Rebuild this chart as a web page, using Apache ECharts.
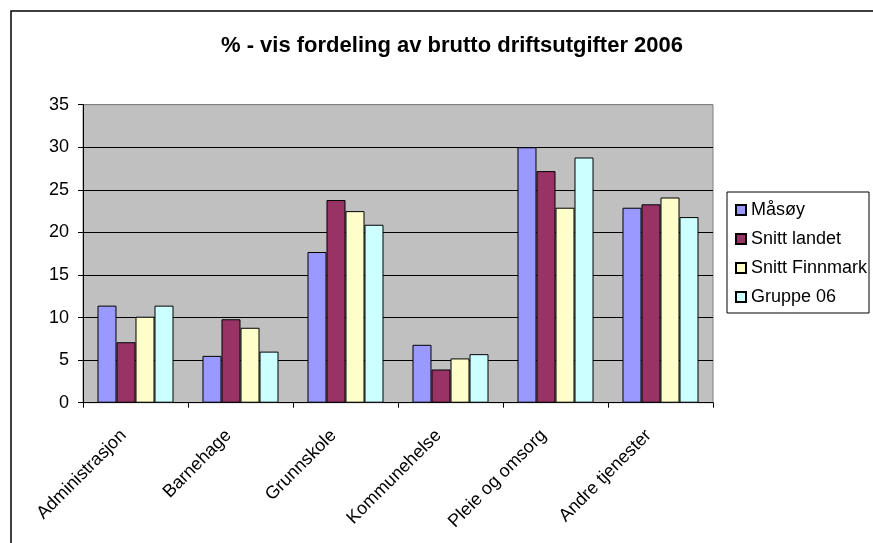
<!DOCTYPE html>
<html>
<head>
<meta charset="utf-8">
<script src="https://cdn.jsdelivr.net/npm/echarts@6/dist/echarts.min.js"></script>
<style>
    html, body { margin: 0; padding: 0; background: #fff; }
    #chart { width: 873px; height: 543px; }
</style>
</head>
<body>
<div id="chart"></div>
<script>
let chart = echarts.init(document.querySelector('#chart'))

// kategorier og verdier (lest av bildet)
let categories = ['Administrasjon', 'Barnehage', 'Grunnskole', 'Kommunehelse', 'Pleie og omsorg', 'Andre tjenester']
let seriesNames = ['Måsøy', 'Snitt landet', 'Snitt Finnmark', 'Gruppe 06']
let masoy = [11.4, 5.5, 17.7, 6.8, 30.0, 22.9]
let snittLandet = [7.1, 9.8, 23.8, 3.9, 27.2, 23.3]
let snittFinnmark = [10.1, 8.8, 22.5, 5.2, 22.9, 24.1]
let gruppe06 = [11.4, 6.0, 20.9, 5.7, 28.8, 21.8]
let colors = ['#9999FF', '#993366', '#FFFFCC', '#CCFFFF']

let font = 'Liberation Sans, Arial, sans-serif'

function bar(name, data, color) {
    return {
        name: name,
        type: 'bar',
        data: data,
        barGap: 0,
        barCategoryGap: '27.6%',
        itemStyle: {
            color: color,
            borderColor: '#000',
            borderWidth: 1
        }
    }
}

chart.setOption({
    animation: false,
    title: {
        text: '% - vis fordeling av brutto driftsutgifter 2006',
        left: 447,
        top: 30,
        textAlign: 'center',
        textStyle: {
            fontFamily: font,
            fontSize: 22,
            fontWeight: 'bold',
            color: '#000'
        }
    },
    legend: {
        orient: 'vertical',
        left: 735,
        top: 201,
        padding: 0,
        itemGap: 11,
        itemWidth: 10,
        itemHeight: 10,
        icon: 'rect',
        data: seriesNames,
        textStyle: {
            fontFamily: font,
            fontSize: 18,
            color: '#000'
        }
    },
    graphic: [
        { // ytre ramme
            type: 'rect',
            shape: { x: 11, y: 11, width: 900, height: 600 },
            style: { fill: 'none', stroke: '#000', lineWidth: 1.5 },
            silent: true
        },
        { // ramme rundt forklaring
            type: 'rect',
            shape: { x: 727, y: 192, width: 142, height: 121 },
            style: { fill: 'none', stroke: '#000', lineWidth: 1 },
            silent: true
        }
    ],
    grid: {
        left: 83,
        right: 160,
        top: 104.7,
        bottom: 140.3,
        show: true,
        backgroundColor: '#C0C0C0',
        borderColor: '#808080',
        borderWidth: 1
    },
    xAxis: {
        type: 'category',
        data: categories,
        boundaryGap: true,
        axisLine: { lineStyle: { color: '#000', width: 1 } },
        axisTick: { show: true, length: 5, interval: 0, lineStyle: { color: '#000' } },
        axisLabel: {
            interval: 0,
            rotate: 45,
            margin: 18,
            padding: [0, 17, 0, 0],
            fontFamily: font,
            fontSize: 18,
            color: '#000'
        }
    },
    yAxis: {
        type: 'value',
        min: 0,
        max: 35,
        interval: 5,
        axisLine: { show: true, lineStyle: { color: '#000', width: 1 } },
        axisTick: { show: true, length: 5, lineStyle: { color: '#000' } },
        axisLabel: {
            margin: 14,
            fontFamily: font,
            fontSize: 18,
            color: '#000'
        },
        splitLine: {
            show: true,
            lineStyle: {
                color: ['#000', '#000', '#000', '#000', '#000', '#000', '#000', '#808080'],
                width: 1
            }
        }
    },
    series: [
        bar(seriesNames[0], masoy, colors[0]),
        bar(seriesNames[1], snittLandet, colors[1]),
        bar(seriesNames[2], snittFinnmark, colors[2]),
        bar(seriesNames[3], gruppe06, colors[3])
    ]
})
</script>
</body>
</html>
